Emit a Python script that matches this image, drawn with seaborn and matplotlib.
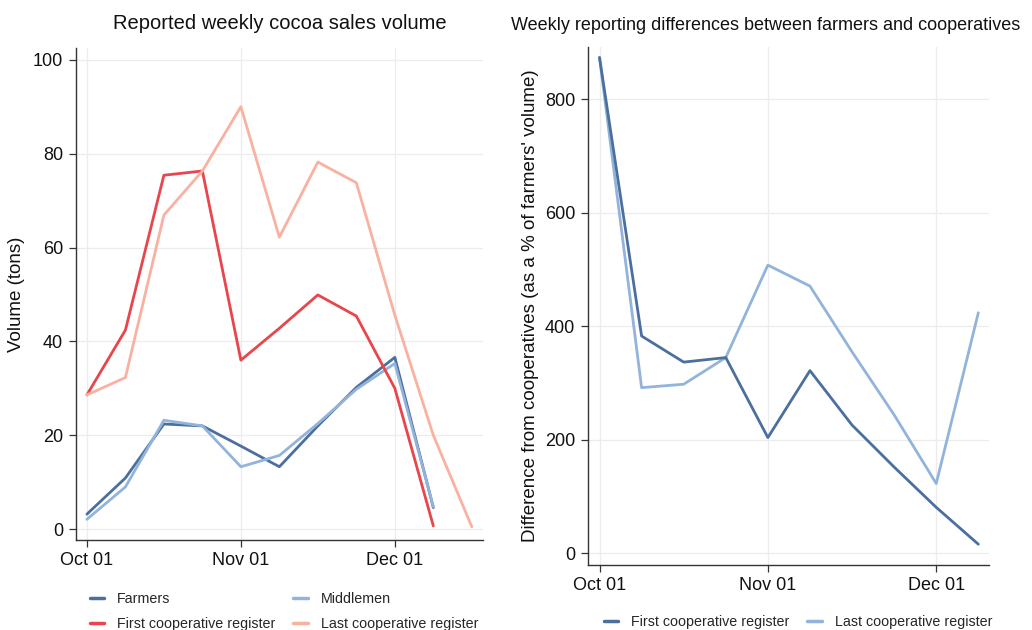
"""Weekly cocoa sales volume and reporting differences, two panels."""

import matplotlib
matplotlib.use("Agg")
import matplotlib.pyplot as plt
import numpy as np
import pandas as pd
import seaborn as sns

# ── Data ──
weeks = list(range(11))
tick_pos = [0, 4, 8]
tick_labels = ["Oct 01", "Nov 01", "Dec 01"]

farmers = [3.2, 10.9, 22.4, 22.0, 17.7, 13.3, 22.0, 30.2, 36.6, 4.6, np.nan]
middlemen = [2.1, 9.0, 23.2, 22.0, 13.3, 15.7, 22.5, 29.8, 35.3, 4.8, np.nan]
first_coop = [28.6, 42.4, 75.4, 76.3, 36.0, 42.8, 49.9, 45.4, 30.0, 0.7, np.nan]
last_coop = [28.6, 32.3, 66.9, 76.3, 90.0, 62.2, 78.2, 73.8, 45.6, 20.0, 0.5]

diff_weeks = list(range(10))
diff_first = [874, 383, 337, 345, 204, 322, 226, 152, 81, 16]
diff_last = [874, 292, 298, 345, 508, 471, 355, 244, 123, 424]

DARK_BLUE = "#4b6f9f"
LIGHT_BLUE = "#93b4da"
RED = "#e8454c"
SALMON = "#f9b1a1"

vol = pd.DataFrame({
    "week": weeks * 4,
    "volume": farmers + middlemen + first_coop + last_coop,
    "series": (["Farmers"] * 11 + ["Middlemen"] * 11
               + ["First cooperative register"] * 11
               + ["Last cooperative register"] * 11),
})
diff = pd.DataFrame({
    "week": diff_weeks * 2,
    "pct": diff_first + diff_last,
    "series": ["First cooperative register"] * 10 + ["Last cooperative register"] * 10,
})

sns.set_theme(style="white")
plt.rcParams["font.family"] = ["Liberation Sans", "DejaVu Sans"]

fig = plt.figure(figsize=(10.32, 6.3), dpi=100)
ax1 = fig.add_axes([0.0734, 0.1429, 0.3946, 0.7809])
ax2 = fig.add_axes([0.5695, 0.1032, 0.3891, 0.8227])


def style_axis(ax):
    ax.grid(True, color="#ececec", linewidth=0.9)
    ax.set_axisbelow(True)
    for side in ("top", "right"):
        ax.spines[side].set_visible(False)
    for side in ("left", "bottom"):
        ax.spines[side].set_color("#333333")
        ax.spines[side].set_linewidth(1.0)
    ax.tick_params(axis="both", which="major", direction="out", length=5,
                   width=0.9, color="#333333", labelsize=13, labelcolor="#111111",
                   left=True, bottom=True, pad=4)
    ax.set_xticks(tick_pos)
    ax.set_xticklabels(tick_labels)
    ax.set_xlabel("")


def place_legend(handles, labels, anchor, ncol):
    leg = fig.legend(
        handles, labels, loc="upper left", bbox_to_anchor=anchor,
        bbox_transform=fig.transFigure, ncol=ncol, frameon=False,
        fontsize=10.3, handlelength=1.0, handletextpad=0.9, columnspacing=1.25,
        labelspacing=0.75, borderpad=0, borderaxespad=0,
    )
    for line in leg.get_lines():
        line.set_linewidth(2.5)
    return leg


# ── Left: volume ──
sns.lineplot(
    data=vol, x="week", y="volume", hue="series", ax=ax1,
    palette={"Farmers": DARK_BLUE, "Middlemen": LIGHT_BLUE,
             "First cooperative register": RED, "Last cooperative register": SALMON},
    hue_order=["Farmers", "Middlemen", "First cooperative register", "Last cooperative register"],
    linewidth=2.0, legend=True,
)
style_axis(ax1)
ax1.set_xlim(-0.29, 10.29)
ax1.set_ylim(-2.3, 102.5)
ax1.set_yticks([0, 20, 40, 60, 80, 100])
ax1.set_ylabel("Volume (tons)", fontsize=13.5, color="#111111", labelpad=6)
ax1.set_title("Reported weekly cocoa sales volume", fontsize=14.5, color="#111111", pad=14)
h1, l1 = ax1.get_legend_handles_labels()
ax1.get_legend().remove()
# matplotlib fills legend columns first: reorder so rows read Farmers/Middlemen, First/Last
order1 = [l1.index(s) for s in ["Farmers", "First cooperative register",
                                "Middlemen", "Last cooperative register"]]
place_legend([h1[i] for i in order1], [l1[i] for i in order1],
             (90 / 1032, 1 - 592 / 630), 2)

# ── Right: difference ──
sns.lineplot(
    data=diff, x="week", y="pct", hue="series", ax=ax2,
    palette={"First cooperative register": DARK_BLUE, "Last cooperative register": LIGHT_BLUE},
    hue_order=["Last cooperative register", "First cooperative register"],
    linewidth=2.0, legend=True,
)
style_axis(ax2)
ax2.set_xlim(-0.28, 9.26)
ax2.set_ylim(-20.6, 893)
ax2.set_yticks([0, 200, 400, 600, 800])
ax2.set_ylabel("Difference from cooperatives (as a % of farmers' volume)",
               fontsize=13.5, color="#111111", labelpad=4)
h2, l2 = ax2.get_legend_handles_labels()
ax2.get_legend().remove()
order2 = [l2.index("First cooperative register"), l2.index("Last cooperative register")]
place_legend([h2[i] for i in order2], [l2[i] for i in order2],
             (604 / 1032, 1 - 615 / 630), 2)
fig.text(766 / 1032, 1 - 26 / 630, "Weekly reporting differences between farmers and cooperatives",
         ha="center", va="center", fontsize=13.0, color="#111111")

fig.savefig("out.png", dpi=100)
